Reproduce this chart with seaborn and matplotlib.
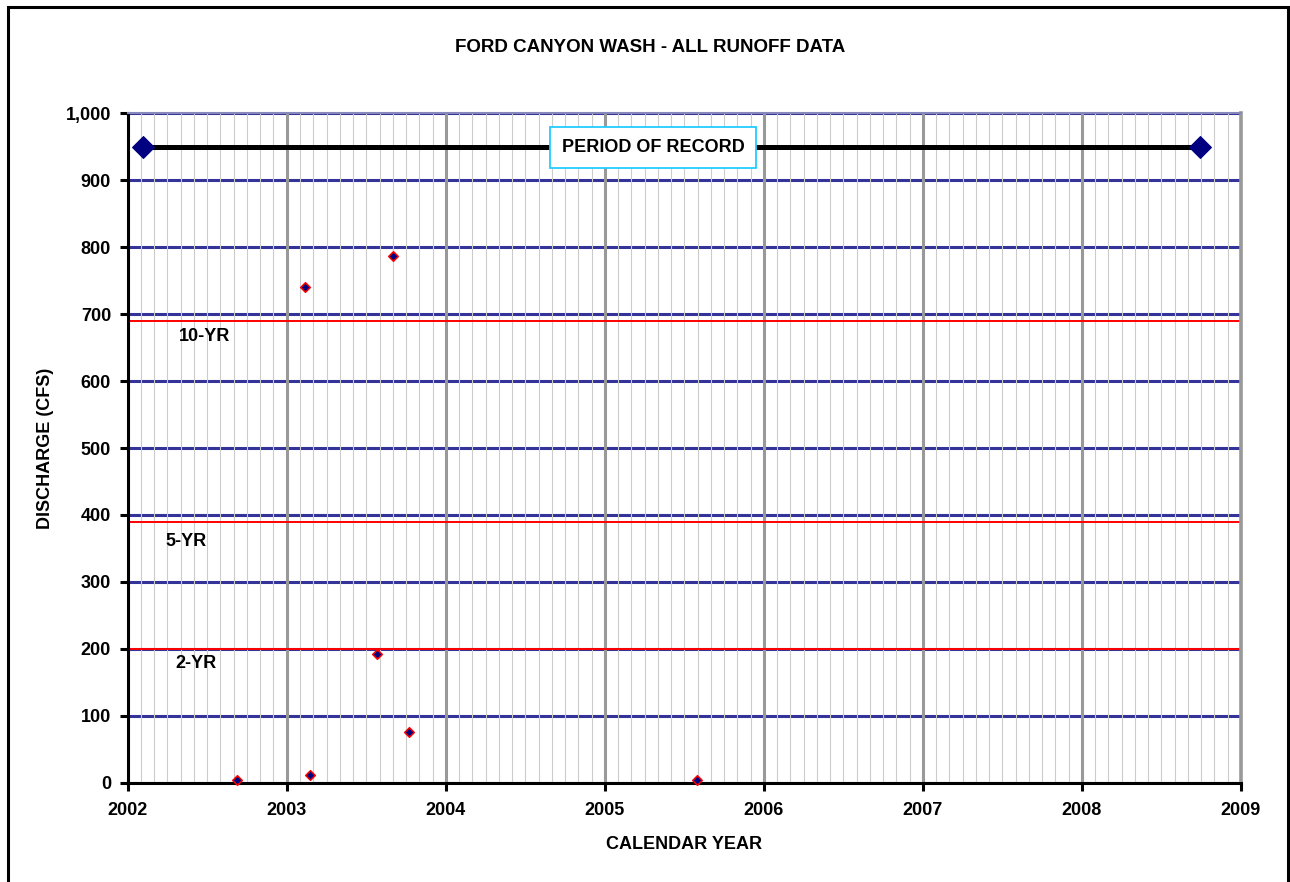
import matplotlib
matplotlib.use("Agg")
import matplotlib.pyplot as plt
import matplotlib.ticker as mticker
from matplotlib.patches import Rectangle
import seaborn as sns
import pandas as pd

# ---- data ----
event_year = [2002.690, 2003.113, 2003.146, 2003.568, 2003.669, 2003.768, 2005.577]
discharge = [4, 740, 12, 193, 787, 76, 4]

record_years = [2002.094, 2008.744]
record_level = [950, 950]

return_labels = ["2-YR", "5-YR", "10-YR"]
return_flows = [200, 390, 690]
return_label_x = [2002.30, 2002.24, 2002.32]
return_label_y = [178, 360, 666]

x_ticks = [2002, 2003, 2004, 2005, 2006, 2007, 2008, 2009]
y_ticks = [0, 100, 200, 300, 400, 500, 600, 700, 800, 900, 1000]

title = "FORD CANYON WASH - ALL RUNOFF DATA"
x_label = "CALENDAR YEAR"
y_label = "DISCHARGE (CFS)"
record_label = "PERIOD OF RECORD"

# ---- style ----
sns.set_theme(style="white")
plt.rcParams['font.family'] = ['Liberation Sans', 'DejaVu Sans']
plt.rcParams['font.weight'] = 'bold'
plt.rcParams['axes.labelweight'] = 'bold'
plt.rcParams['text.color'] = 'black'
plt.rcParams['axes.labelcolor'] = 'black'
plt.rcParams['xtick.color'] = 'black'
plt.rcParams['ytick.color'] = 'black'

W, H = 1290, 882
fig = plt.figure(figsize=(W / 100, H / 100), dpi=100)
ax = fig.add_axes([127.7 / W, (H - 782.7) / H, (1241 - 127.7) / W, 669.4 / H])

events = pd.DataFrame({"year": event_year, "cfs": discharge})
record = pd.DataFrame({"year": record_years, "cfs": record_level})

# gridlines
ax.set_axisbelow(True)
ax.xaxis.set_minor_locator(mticker.MultipleLocator(1 / 12))
ax.grid(which='minor', axis='x', color='#cccccc', lw=0.8)
ax.grid(which='major', axis='x', color='#999999', lw=2.2)
ax.grid(which='major', axis='y', color='#333399', lw=2.2)
ax.xaxis.set_zorder(0.6)
ax.yaxis.set_zorder(0.5)

# return-period lines
for v in return_flows:
    ax.axhline(v, color='red', lw=1.4, zorder=1.5)
for lab, lx, ly in zip(return_labels, return_label_x, return_label_y):
    ax.text(lx, ly, lab, ha='left', va='center', fontsize=13, fontweight='bold',
            color='black', zorder=3)

# period of record
sns.lineplot(data=record, x="year", y="cfs", ax=ax, color='black', lw=3.6,
             marker='D', markersize=11.3, markerfacecolor='#000080',
             markeredgecolor='#000080', zorder=3, sort=False)
ax.text(2005.303, 949, record_label, ha='center', va='center', fontsize=13,
        fontweight='bold', color='black', zorder=4,
        bbox=dict(boxstyle='square,pad=0.65', facecolor='white',
                  edgecolor='#22ccff', lw=1.3))

# runoff events
sns.scatterplot(data=events, x="year", y="cfs", ax=ax, marker='D', s=24,
                color='#000080', edgecolor='red', linewidth=1.1, zorder=5,
                clip_on=False)

# axes
ax.set_xlim(2002, 2009)
ax.set_ylim(0, 1000)
ax.set_xticks(x_ticks)
ax.set_xticklabels([str(t) for t in x_ticks])
ax.set_yticks(y_ticks)
ax.yaxis.set_major_formatter(mticker.StrMethodFormatter('{x:,.0f}'))
ax.tick_params(axis='both', which='major', bottom=True, left=True, length=6,
               width=2.2, color='black', labelcolor='black', labelsize=13,
               direction='out')
ax.tick_params(axis='x', which='major', pad=8)
ax.tick_params(axis='y', which='major', pad=6)
ax.tick_params(axis='x', which='minor', length=0)
for lab in ax.get_xticklabels() + ax.get_yticklabels():
    lab.set_fontweight('bold')

for s in ['left', 'bottom']:
    ax.spines[s].set_color('black')
    ax.spines[s].set_linewidth(2.2)
ax.spines['right'].set_color('#999999')
ax.spines['right'].set_linewidth(2.6)
ax.spines['top'].set_color('#8888bb')
ax.spines['top'].set_linewidth(1.5)

ax.set_xlabel(x_label, fontsize=13, fontweight='bold', color='black')
ax.set_ylabel(y_label, fontsize=13, fontweight='bold', color='black')
ax.xaxis.set_label_coords(0.5, (782.7 - 836) / 669.4)
ax.yaxis.set_label_coords((53.5 - 127.7) / 1113.3, 0.5)

fig.text(650 / W, 1 - 48 / H, title, ha='center', va='center', fontsize=13.5,
         fontweight='bold', color='black')

# outer chart border
fig.add_artist(Rectangle((8 / W, -0.1), (1288 - 8) / W, 1.1 - 7 / H,
                         transform=fig.transFigure, fill=False, lw=2.2,
                         edgecolor='black', clip_on=False))

fig.savefig("out.png", dpi=100)
